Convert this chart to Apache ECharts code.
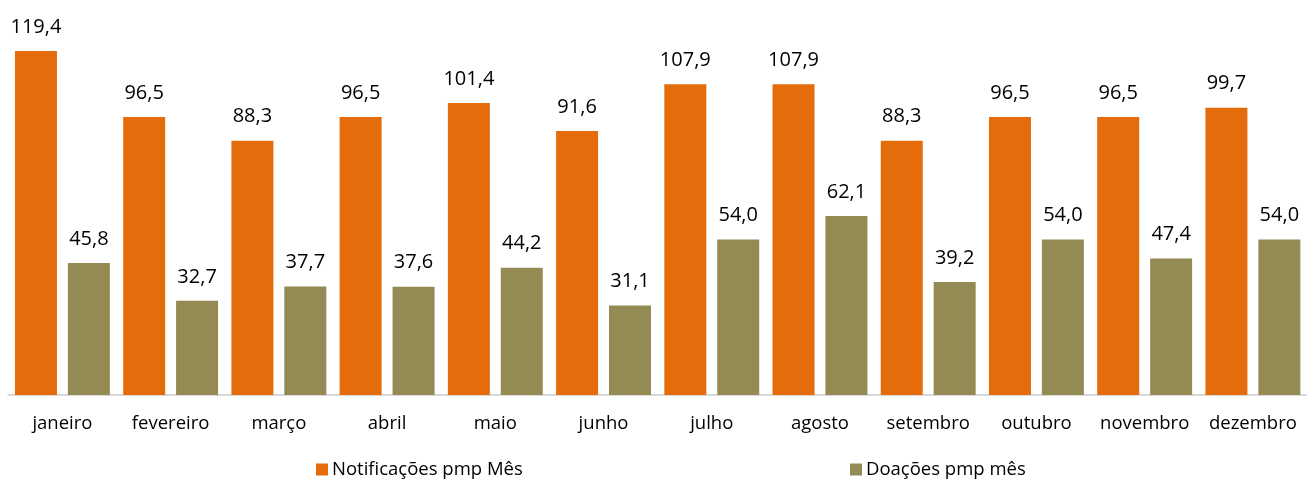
<!DOCTYPE html>
<html><head><meta charset="utf-8">
<script src="https://cdn.jsdelivr.net/npm/echarts@6/dist/echarts.min.js"></script>
<style>html,body{margin:0;padding:0;background:#fff}#c{width:1307px;height:479px}</style>
</head><body><div id="c"></div>
<script>
const categories = ['janeiro','fevereiro','março','abril','maio','junho','julho','agosto','setembro','outubro','novembro','dezembro'];
const notificacoes = [119.4,96.5,88.3,96.5,101.4,91.6,107.9,107.9,88.3,96.5,96.5,99.7];
const doacoes = [45.8,32.7,37.7,37.6,44.2,31.1,54.0,62.1,39.2,54.0,47.4,54.0];
const seriesNames = ['Notificações pmp Mês','Doações pmp mês'];
const font = 'Open Sans';
const fmt = p => p.value.toFixed(1).replace('.', ',');
const chart = echarts.init(document.getElementById('c'));
chart.setOption({
  animation:false,
  textStyle:{fontFamily:font},
  grid:{left:8.3,right:-2.7,top:20.5,bottom:84,containLabel:false},
  legend:[
    {data:[seriesNames[0]],left:311,top:455,itemWidth:12,itemHeight:12,itemGap:0,icon:'rect',textStyle:{fontFamily:font,fontSize:18.5,color:'#000',padding:[0,0,0,-1]}},
    {data:[seriesNames[1]],left:845,top:455,itemWidth:12,itemHeight:12,itemGap:0,icon:'rect',textStyle:{fontFamily:font,fontSize:18.5,color:'#000',padding:[0,0,0,-1]}}
  ],
  xAxis:{type:'category',data:categories,axisLine:{lineStyle:{color:'#D9D9D9',width:2}},axisTick:{show:false},
    axisLabel:{interval:0,color:'#000',fontFamily:font,fontSize:18.5,margin:19}},
  yAxis:{type:'value',min:0,max:130,show:false,splitLine:{show:false}},
  series:[
    {name:seriesNames[0],type:'bar',data:notificacoes,barWidth:42,barGap:'26%',itemStyle:{color:'#E46C0A'},
      label:{show:true,position:'top',distance:14,formatter:fmt,color:'#000',fontFamily:font,fontSize:20}},
    {name:seriesNames[1],type:'bar',data:doacoes,barWidth:42,itemStyle:{color:'#948A54'},
      label:{show:true,position:'top',distance:14,formatter:fmt,color:'#000',fontFamily:font,fontSize:20}}
  ]
});
</script></body></html>
